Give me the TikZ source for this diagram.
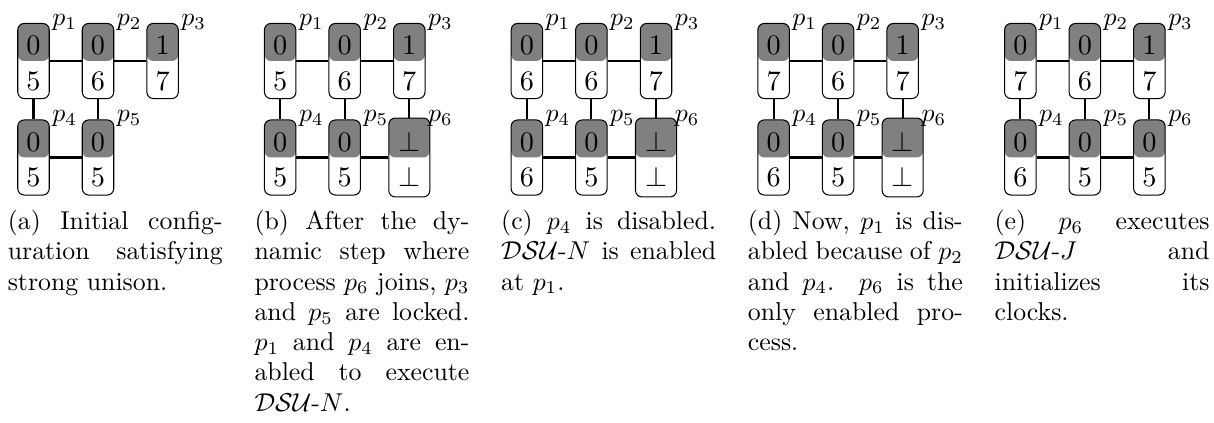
\documentclass[tikz,border=0pt]{standalone}
\tolerance=10000
\hbadness=10000

\tikzset{
  procbox/.style={draw, line width=0.4pt, rounded corners=2.5pt, inner sep=0pt,
    minimum width=12.2pt, minimum height=29.1pt,
    path picture={\fill[gray] (path picture bounding box.north west) rectangle (path picture bounding box.east);}},
  botbox/.style={procbox, minimum width=15.9pt, minimum height=30.6pt},
  procval/.style={inner sep=0pt, font=\fontsize{10.95}{13}\selectfont},
  plabel/.style={anchor=base west, inner sep=1pt},
  link/.style={thick},
  capt/.style={anchor=base west, inner sep=0pt, text width=83.3pt, align=justify,
    font=\fontsize{10}{11.74}\selectfont}
}

% box with clock values, name, position, top, bottom, index
\newcommand{\proc}[6][procbox]{%
  \node[#1] (#2) at (#3) {};
  \node[procval, anchor=base] (#2t) at ([yshift=2.5pt]#2.center) {$#4$};
  \node[procval, anchor=base] (#2b) at ([yshift=-11.4pt]#2.center) {$#5$};
  \node[plabel] (#2l) at ([xshift=6.1pt,yshift=13.8pt]#2.center) {$p_{#6}$};
}

\begin{document}
\begin{tikzpicture}[x=0.3876pt, y=-0.3876pt]
\useasboundingbox (0,0) rectangle (1214,423);

% (a)
\proc{a1}{33.5,61}{0}{5}{1}
\proc{a2}{98,61}{0}{6}{2}
\proc{a3}{162.6,61}{1}{7}{3}
\proc{a4}{33.5,157.5}{0}{5}{4}
\proc{a5}{98,157.5}{0}{5}{5}
\draw[link] (a1) -- (a2);
\draw[link] (a2) -- (a3);
\draw[link] (a1) -- (a4);
\draw[link] (a2) -- (a5);
\draw[link] (a4) -- (a5);
\node[capt] (capa) at (7.3,229.5) {(a) Initial config-\linebreak uration satisfying\linebreak strong unison.};

% (b)
\proc{b1}{280.2,61}{0}{5}{1}
\proc{b2}{344.7,61}{0}{6}{2}
\proc{b3}{409.3,61}{1}{7}{3}
\proc{b4}{280.2,157.5}{0}{5}{4}
\proc{b5}{344.7,157.5}{0}{5}{5}
\proc[botbox]{b6}{409.3,157.5}{\bot}{\bot}{6}
\node[capt] (capb) at (254,229.5) {(b) After the dy-\linebreak namic step where\linebreak process $p_6$ joins, $p_3$\linebreak and $p_5$ are locked.\linebreak $p_1$ and $p_4$ are en-\linebreak abled to execute\linebreak $\mathcal{DSU}$-$N$.};

% (c)
\proc{c1}{526.9,61}{0}{6}{1}
\proc{c2}{591.4,61}{0}{6}{2}
\proc{c3}{656,61}{1}{7}{3}
\proc{c4}{526.9,157.5}{0}{6}{4}
\proc{c5}{591.4,157.5}{0}{5}{5}
\proc[botbox]{c6}{656,157.5}{\bot}{\bot}{6}
\node[capt] (capc) at (500.7,229.5) {(c) $p_4$ is disabled.\linebreak $\mathcal{DSU}$-$N$ is enabled\linebreak at $p_1$.};

% (d)
\proc{d1}{773.6,61}{0}{7}{1}
\proc{d2}{838.1,61}{0}{6}{2}
\proc{d3}{902.7,61}{1}{7}{3}
\proc{d4}{773.6,157.5}{0}{6}{4}
\proc{d5}{838.1,157.5}{0}{5}{5}
\proc[botbox]{d6}{902.7,157.5}{\bot}{\bot}{6}
\node[capt] (capd) at (747.4,229.5) {(d) Now, $p_1$ is dis-\linebreak abled because of $p_2$\linebreak and $p_4$. $p_6$ is the\linebreak only enabled pro-\linebreak cess.};

% (e)
\proc{e1}{1020.3,61}{0}{7}{1}
\proc{e2}{1084.8,61}{0}{6}{2}
\proc{e3}{1149.4,61}{1}{7}{3}
\proc{e4}{1020.3,157.5}{0}{6}{4}
\proc{e5}{1084.8,157.5}{0}{5}{5}
\proc{e6}{1149.4,157.5}{0}{5}{6}
\node[capt] (cape) at (994.1,229.5) {(e) $p_6$ executes\linebreak $\mathcal{DSU}$-$J$ and\linebreak initializes its\linebreak clocks.};

\foreach \s in {b,c,d,e} {
  \draw[link] (\s1) -- (\s2);
  \draw[link] (\s2) -- (\s3);
  \draw[link] (\s1) -- (\s4);
  \draw[link] (\s2) -- (\s5);
  \draw[link] (\s3) -- (\s6);
  \draw[link] (\s4) -- (\s5);
  \draw[link] (\s5) -- (\s6);
}
\end{tikzpicture}
\end{document}
